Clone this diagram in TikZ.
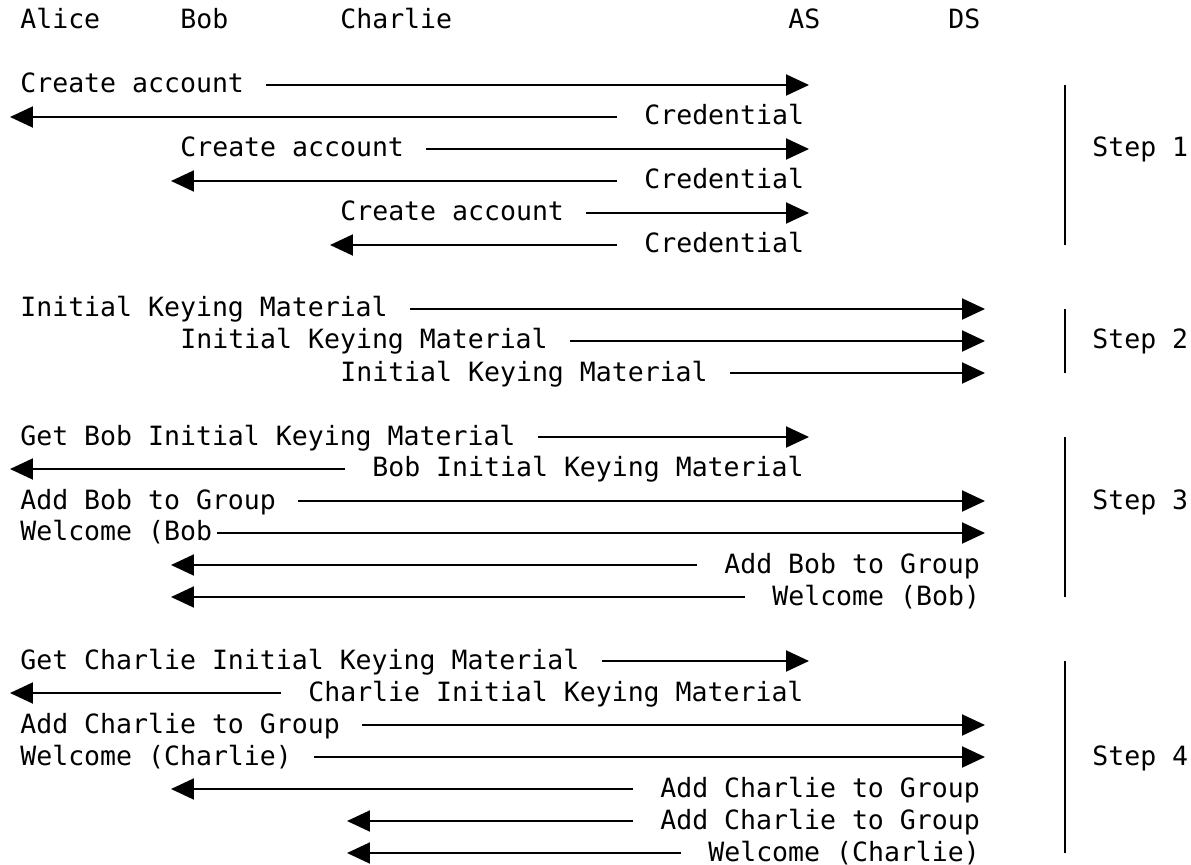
\documentclass[tikz,border=0pt]{standalone}
\usepackage{fontspec}
\setmonofont{DejaVu Sans Mono}
\usetikzlibrary{arrows.meta}
\tikzset{
	lbl/.style={font=\ttfamily\fontsize{15.1pt}{18pt}\selectfont, inner sep=0pt, text height=0.42cm, text depth=0.10cm, anchor=west},
	msg/.style={line width=0.04cm, -{Triangle[length=0.46cm,width=0.42cm]}},
	bar/.style={line width=0.04cm}
}
\begin{document}
\begin{tikzpicture}[x=0.02cm,y=-0.02cm]
			\useasboundingbox (0,0) rectangle (1191,865);
			\node[lbl] (alice) at (20,21) {Alice};
			\node[lbl] (bob) at (180,21) {Bob};
			\node[lbl] (charlie) at (340,21) {Charlie};
			\node[lbl] (as) at (788,21) {AS};
			\node[lbl] (ds) at (948,21) {DS};
			\coordinate (aliceTip) at (10,21);
			\coordinate (bobTip) at (171,21);
			\coordinate (charlieTip) at (330,21);
			\coordinate (charlieTipB) at (347,21);
			\coordinate (asTip) at (809,21);
			\coordinate (dsTip) at (985,21);
			\node[lbl] (acA) at (20,85) {Create account};
			\draw[msg] ([xshift=0.44cm]acA.east) -- (acA.east -| asTip);
			\node[lbl] (crA) at (644,117) {Credential};
			\draw[msg] ([xshift=-0.54cm]crA.west) -- (crA.west -| aliceTip);
			\node[lbl] (acB) at (180,149) {Create account};
			\draw[msg] ([xshift=0.44cm]acB.east) -- (acB.east -| asTip);
			\node[lbl] (crB) at (644,181) {Credential};
			\draw[msg] ([xshift=-0.54cm]crB.west) -- (crB.west -| bobTip);
			\node[lbl] (acC) at (340,213) {Create account};
			\draw[msg] ([xshift=0.44cm]acC.east) -- (acC.east -| asTip);
			\node[lbl] (crC) at (644,245) {Credential};
			\draw[msg] ([xshift=-0.54cm]crC.west) -- (crC.west -| charlieTip);
			\draw[bar] (1065,85) -- (1065,245);
			\node[lbl] (step1) at (1092,149) {Step 1};
			\node[lbl] (ikA) at (20,309) {Initial Keying Material};
			\draw[msg] ([xshift=0.44cm]ikA.east) -- (ikA.east -| dsTip);
			\node[lbl] (ikB) at (180,341) {Initial Keying Material};
			\draw[msg] ([xshift=0.44cm]ikB.east) -- (ikB.east -| dsTip);
			\node[lbl] (ikC) at (340,373) {Initial Keying Material};
			\draw[msg] ([xshift=0.44cm]ikC.east) -- (ikC.east -| dsTip);
			\draw[bar] (1065,309) -- (1065,373);
			\node[lbl] (step2) at (1092,341) {Step 2};
			\node[lbl] (getB) at (20,437) {Get Bob Initial Keying Material};
			\draw[msg] ([xshift=0.44cm]getB.east) -- (getB.east -| asTip);
			\node[lbl] (ikmB) at (372,469) {Bob Initial Keying Material};
			\draw[msg] ([xshift=-0.54cm]ikmB.west) -- (ikmB.west -| aliceTip);
			\node[lbl] (addB) at (20,501) {Add Bob to Group};
			\draw[msg] ([xshift=0.44cm]addB.east) -- (addB.east -| dsTip);
			\node[lbl] (welB) at (20,533) {Welcome (Bob};
			\draw[msg] ([xshift=0.1cm]welB.east) -- (welB.east -| dsTip);
			\node[lbl] (addBb) at (724,565) {Add Bob to Group};
			\draw[msg] ([xshift=-0.54cm]addBb.west) -- (addBb.west -| bobTip);
			\node[lbl] (welBb) at (772,597) {Welcome (Bob)};
			\draw[msg] ([xshift=-0.54cm]welBb.west) -- (welBb.west -| bobTip);
			\draw[bar] (1065,437) -- (1065,597);
			\node[lbl] (step3) at (1092,501) {Step 3};
			\node[lbl] (getC) at (20,661) {Get Charlie Initial Keying Material};
			\draw[msg] ([xshift=0.44cm]getC.east) -- (getC.east -| asTip);
			\node[lbl] (ikmC) at (308,693) {Charlie Initial Keying Material};
			\draw[msg] ([xshift=-0.54cm]ikmC.west) -- (ikmC.west -| aliceTip);
			\node[lbl] (addC) at (20,725) {Add Charlie to Group};
			\draw[msg] ([xshift=0.44cm]addC.east) -- (addC.east -| dsTip);
			\node[lbl] (welC) at (20,757) {Welcome (Charlie)};
			\draw[msg] ([xshift=0.44cm]welC.east) -- (welC.east -| dsTip);
			\node[lbl] (addCb) at (660,789) {Add Charlie to Group};
			\draw[msg] ([xshift=-0.54cm]addCb.west) -- (addCb.west -| bobTip);
			\node[lbl] (addCc) at (660,821) {Add Charlie to Group};
			\draw[msg] ([xshift=-0.54cm]addCc.west) -- (addCc.west -| charlieTipB);
			\node[lbl] (welCc) at (708,853) {Welcome (Charlie)};
			\draw[msg] ([xshift=-0.54cm]welCc.west) -- (welCc.west -| charlieTipB);
			\draw[bar] (1065,661) -- (1065,853);
			\node[lbl] (step4) at (1092,757) {Step 4};
\end{tikzpicture}
\end{document}
